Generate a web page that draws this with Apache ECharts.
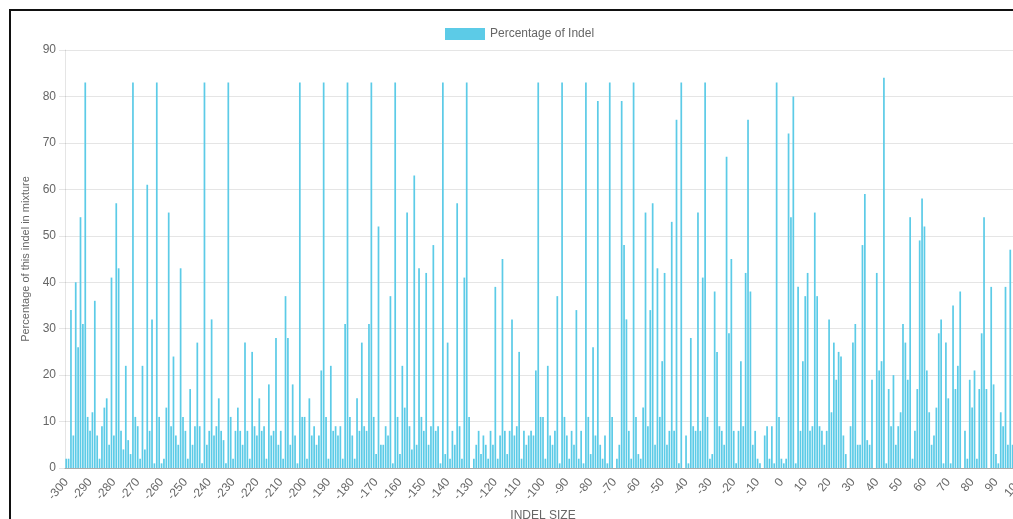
<!DOCTYPE html>
<html>
<head>
<meta charset="utf-8">
<title>Percentage of Indel</title>
<script src="https://cdn.jsdelivr.net/npm/echarts@6/dist/echarts.min.js"></script>
<style>
    html, body { margin: 0; padding: 0; background: #fff; overflow: hidden; }
    #frame { position: absolute; left: 9px; top: 9px; width: 1002px; height: 508px; border-top: 2px solid #111; border-left: 2px solid #111; }
    #main { position: absolute; left: 0; top: 0; width: 1013px; height: 519px; }
</style>
</head>
<body>
<div id="frame"></div>
<div id="main"></div>
<script>
// indel sizes on the x axis
var firstSize = -300;
var lastSize = 100;

// percentage of each indel, in blocks of 50 sizes
var pctA = [ // -300 .. -251
    2, 2, 34, 7, 40, 26, 54, 31, 83, 11,
    8, 12, 36, 7, 2, 9, 13, 15, 5, 41,
    7, 57, 43, 8, 4, 22, 6, 3, 83, 11,
    9, 2, 22, 4, 61, 8, 32, 1, 83, 11,
    1, 2, 13, 55, 9, 24, 7, 5, 43, 11
];
var pctB = [ // -250 .. -201
    8, 2, 17, 5, 9, 27, 9, 1, 83, 5,
    8, 32, 7, 9, 15, 8, 6, 1, 83, 11,
    2, 8, 13, 8, 5, 27, 8, 2, 25, 9,
    7, 15, 8, 9, 2, 18, 7, 8, 28, 5,
    8, 2, 37, 28, 5, 18, 7, 1, 83, 11
];
var pctC = [ // -200 .. -151
    11, 2, 15, 7, 9, 5, 7, 21, 83, 11,
    2, 22, 8, 9, 7, 9, 2, 31, 83, 11,
    7, 2, 15, 8, 27, 9, 8, 31, 83, 11,
    3, 52, 5, 5, 9, 7, 37, 1, 83, 11,
    3, 22, 13, 55, 9, 4, 63, 5, 43, 11
];
var pctD = [ // -150 .. -101
    8, 42, 5, 9, 48, 8, 9, 1, 83, 3,
    27, 2, 8, 5, 57, 9, 2, 41, 83, 11,
    0, 2, 5, 8, 3, 7, 5, 2, 8, 5,
    39, 2, 7, 45, 8, 3, 8, 32, 7, 9,
    25, 2, 8, 5, 7, 8, 7, 21, 83, 11
];
var pctE = [ // -100 .. -51
    11, 2, 22, 7, 5, 8, 37, 1, 83, 11,
    7, 2, 8, 5, 34, 2, 8, 1, 83, 11,
    3, 26, 7, 79, 5, 2, 7, 1, 83, 11,
    0, 2, 5, 79, 48, 32, 8, 2, 83, 11,
    3, 2, 13, 55, 9, 34, 57, 5, 43, 11
];
var pctF = [ // -50 .. -1
    23, 42, 5, 8, 53, 8, 75, 1, 83, 0,
    7, 1, 28, 9, 8, 55, 8, 41, 83, 11,
    2, 3, 38, 25, 9, 8, 5, 67, 29, 45,
    8, 1, 8, 23, 9, 42, 75, 38, 5, 8,
    2, 1, 0, 7, 9, 2, 9, 1, 83, 11
];
var pctG = [ // 0 .. 49
    2, 1, 2, 72, 54, 80, 1, 39, 8, 23,
    37, 42, 8, 9, 55, 37, 9, 8, 5, 8,
    32, 12, 27, 19, 25, 24, 7, 3, 0, 9,
    27, 31, 5, 5, 48, 59, 6, 5, 19, 0,
    42, 21, 23, 84, 1, 17, 9, 20, 5, 9
];
var pctH = [ // 50 .. 100
    12, 31, 27, 19, 54, 2, 8, 17, 49, 58,
    52, 21, 12, 5, 7, 13, 29, 32, 1, 27,
    15, 1, 35, 17, 22, 38, 0, 8, 2, 19,
    13, 21, 2, 17, 29, 54, 17, 0, 39, 18,
    3, 1, 12, 9, 39, 5, 47, 5, 2, 12,
    8
];

var sizes = [];
for (var s = firstSize; s <= lastSize; s++) {
    sizes.push(String(s));
}
var pct = [].concat(pctA, pctB, pctC, pctD, pctE, pctF, pctG, pctH);

var textColor = '#666';
var barColor = '#5ccbe7';
var font = '"Liberation Sans", Arial, Helvetica, sans-serif';

// the plot runs on past the right edge of the page, as in the screenshot
var myChart = echarts.init(document.getElementById('main'));
var option = {
    animation: false,
    textStyle: { fontFamily: font },
    legend: {
        left: 440,
        top: 23,
        itemWidth: 40,
        itemHeight: 12,
        icon: 'rect',
        textStyle: { color: textColor, fontSize: 12, fontFamily: font },
        data: ['Percentage of Indel']
    },
    grid: {
        left: 65,
        top: 50,
        width: 956,
        height: 418,
        containLabel: false,
        outerBoundsMode: 'none'
    },
    xAxis: {
        type: 'category',
        data: sizes,
        name: 'INDEL SIZE',
        nameLocation: 'middle',
        nameGap: 40,
        nameTextStyle: { color: textColor, fontSize: 12, fontFamily: font },
        axisLine: { lineStyle: { color: 'rgba(0,0,0,0.25)' } },
        axisTick: { show: false },
        axisLabel: {
            interval: 9,
            rotate: 50,
            margin: 12,
            color: textColor,
            fontSize: 12,
            fontFamily: font
        },
        splitLine: { show: false }
    },
    yAxis: {
        type: 'value',
        min: 0,
        max: 90,
        interval: 10,
        name: 'Percentage of this indel in mixture',
        nameLocation: 'middle',
        nameRotate: 90,
        nameGap: 34,
        nameTextStyle: { color: textColor, fontSize: 11, fontFamily: font },
        axisLine: { show: true, lineStyle: { color: 'rgba(0,0,0,0.1)' } },
        axisTick: { show: true, length: 6, lineStyle: { color: 'rgba(0,0,0,0.1)' } },
        axisLabel: { color: textColor, fontSize: 12, margin: 9, fontFamily: font },
        splitLine: { lineStyle: { color: 'rgba(0,0,0,0.1)' } }
    },
    series: [{
        name: 'Percentage of Indel',
        type: 'bar',
        data: pct,
        barCategoryGap: '28%',
        itemStyle: { color: barColor }
    }]
};
myChart.setOption(option);
</script>
</body>
</html>
